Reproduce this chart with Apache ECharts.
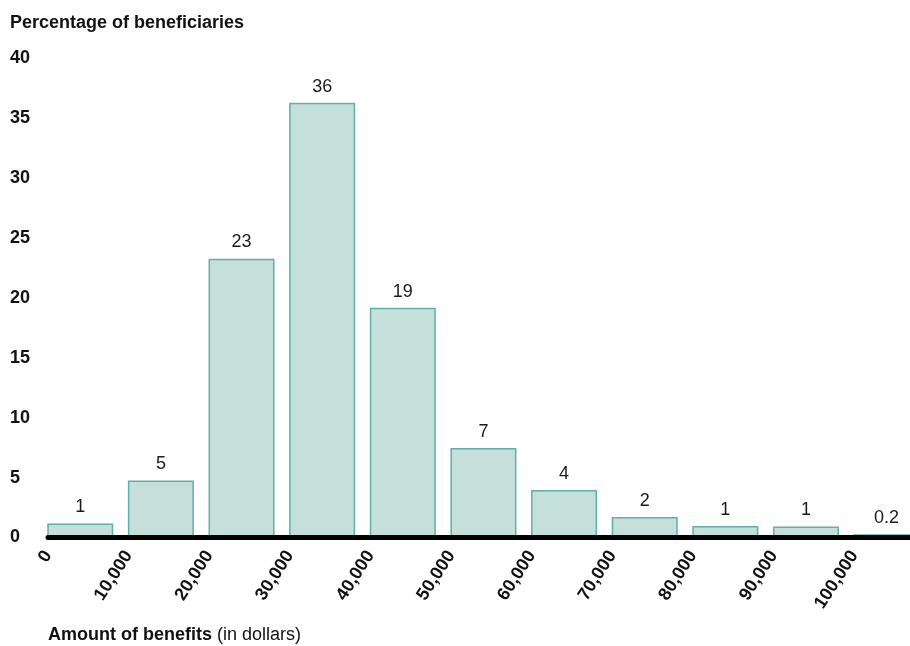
<!DOCTYPE html>
<html><head><meta charset="utf-8">
<script src="https://cdn.jsdelivr.net/npm/echarts@6/dist/echarts.min.js"></script>
<style>html,body{margin:0;padding:0;background:#fff}#c{width:910px;height:646px}</style>
</head><body><div id="c"></div>
<script>
const binStarts = [0, 10000, 20000, 30000, 40000, 50000, 60000, 70000, 80000, 90000, 100000];
const percentages = [1.1, 4.7, 23.2, 36.2, 19.1, 7.4, 3.9, 1.65, 0.9, 0.85, 0.2];
const valueLabels = ['1', '5', '23', '36', '19', '7', '4', '2', '1', '1', '0.2'];
const yTicks = [0, 5, 10, 15, 20, 25, 30, 35, 40];
const binWidth = 8000;
const xMaxVisible = 106900;
const FONT = '"Liberation Sans", Arial, sans-serif';

const chart = echarts.init(document.getElementById('c'), null, {renderer: 'canvas'});
const data = binStarts.map((x, i) => [x, percentages[i], i]);

chart.setOption({
  animation: false,
  backgroundColor: '#ffffff',
  title: [
    {text: 'Percentage of beneficiaries', left: 5, top: 9,
     textStyle: {fontFamily: FONT, fontSize: 18, fontWeight: 'bold', color: '#111'}},
    {text: '{b|Amount of benefits} {n|(in dollars)}', left: 43, top: 621,
     textStyle: {rich: {
       b: {fontFamily: FONT, fontSize: 18, fontWeight: 'bold', color: '#111'},
       n: {fontFamily: FONT, fontSize: 18, fontWeight: 'normal', color: '#111'}}}}
  ],
  grid: {left: 48, right: 0, top: 58, bottom: 108.5, containLabel: false},
  xAxis: {
    type: 'value', min: 0, max: xMaxVisible, interval: 10000, z: 10,
    axisLine: {show: true, lineStyle: {color: '#000', width: 5}},
    axisTick: {show: false},
    splitLine: {show: false},
    axisLabel: {
      rotate: 57, margin: 15, showMaxLabel: false,
      fontFamily: FONT, fontSize: 18, fontWeight: 'bold', color: '#111',
      formatter: v => v.toLocaleString('en-US')
    }
  },
  yAxis: {
    type: 'value', min: yTicks[0], max: yTicks[yTicks.length - 1], interval: 5,
    axisLine: {show: false}, axisTick: {show: false}, splitLine: {show: false},
    axisLabel: {align: 'left', margin: 38, fontFamily: FONT, fontSize: 18, fontWeight: 'bold', color: '#111'}
  },
  series: [{
    type: 'custom',
    clip: false,
    data: data,
    encode: {x: 0, y: 1},
    renderItem: function (params, api) {
      const x0 = api.value(0), v = api.value(1), idx = api.value(2);
      const p1 = api.coord([x0, v]);
      const p2 = api.coord([x0 + binWidth, 0]);
      return {
        type: 'group',
        children: [
          {type: 'rect', shape: {x: p1[0], y: p1[1], width: p2[0] - p1[0], height: p2[1] - p1[1]},
           style: {fill: '#c5dfdb', stroke: '#5fb0a6', lineWidth: 1.5}},
          {type: 'text', x: (p1[0] + p2[0]) / 2, y: p1[1] - 8,
           style: {text: valueLabels[idx], fill: '#1a1a1a', font: '18px ' + FONT,
                   textAlign: 'center', textVerticalAlign: 'bottom'}}
        ]
      };
    }
  }]
});
</script></body></html>
